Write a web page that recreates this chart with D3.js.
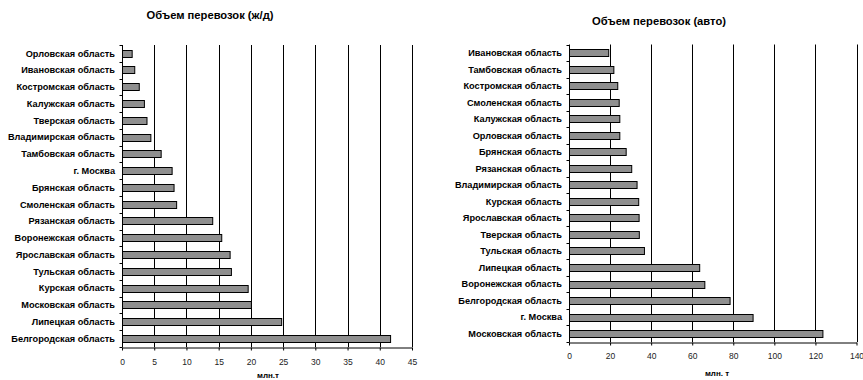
<!DOCTYPE html>
<html>
<head>
<meta charset="utf-8">
<script src="https://cdn.jsdelivr.net/npm/d3@7/dist/d3.min.js"></script>
<style>
  html, body { margin: 0; padding: 0; background: #fff; }
  svg { display: block; font-family: "Liberation Sans", Arial, sans-serif; }
</style>
</head>
<body>
<svg id="chart" width="863" height="380"></svg>
<script>
// Rail freight volume by region, million tonnes
const railRegions = [
  "Орловская область", "Ивановская область", "Костромская область", "Калужская область",
  "Тверская область", "Владимирская область", "Тамбовская область", "г. Москва",
  "Брянская область", "Смоленская область", "Рязанская область", "Воронежская область",
  "Ярославская область", "Тульская область", "Курская область", "Московская область",
  "Липецкая область", "Белгородская область"
];
const railValues = [1.5, 1.9, 2.6, 3.4, 3.8, 4.4, 6.0, 7.7, 8.0, 8.4, 14.0, 15.4, 16.7, 16.9, 19.5, 20.0, 24.7, 41.6];
const railTicks = [0, 5, 10, 15, 20, 25, 30, 35, 40, 45];

// Road freight volume by region, million tonnes
const roadRegions = [
  "Ивановская область", "Тамбовская область", "Костромская область", "Смоленская область",
  "Калужская область", "Орловская область", "Брянская область", "Рязанская область",
  "Владимирская область", "Курская область", "Ярославская область", "Тверская область",
  "Тульская область", "Липецкая область", "Воронежская область", "Белгородская область",
  "г. Москва", "Московская область"
];
const roadValues = [19.1, 21.6, 23.5, 24.2, 24.5, 24.5, 27.6, 30.3, 32.9, 33.7, 33.9, 34.0, 36.5, 63.4, 65.9, 78.2, 89.4, 123.4];
const roadTicks = [0, 20, 40, 60, 80, 100, 120, 140];

const svg = d3.select("#chart");

function drawPanel(opt) {
  const g = svg.append("g");
  const x = d3.scaleLinear()
    .domain([0, d3.max(opt.ticks)])
    .range([opt.left, opt.right]);
  const y = d3.scaleBand()
    .domain(opt.categories)
    .range([opt.top, opt.bottom])
    .paddingInner(0.56)
    .paddingOuter(0.28);

  // title
  g.append("text")
    .attr("x", opt.titleX)
    .attr("y", opt.titleY)
    .attr("text-anchor", "middle")
    .attr("font-size", 11.2)
    .attr("font-weight", "bold")
    .text(opt.title);

  // vertical gridlines
  g.selectAll("line.grid")
    .data(opt.ticks.slice(1))
    .join("line")
    .attr("class", "grid")
    .attr("x1", d => Math.round(x(d)) + 0.5)
    .attr("x2", d => Math.round(x(d)) + 0.5)
    .attr("y1", opt.top)
    .attr("y2", opt.bottom)
    .attr("stroke", "#000")
    .attr("stroke-width", 1);

  // bars
  g.selectAll("rect.bar")
    .data(opt.values)
    .join("rect")
    .attr("class", "bar")
    .attr("x", x(0) + 0.5)
    .attr("y", (d, i) => Math.round(y(opt.categories[i])) + 0.5)
    .attr("width", d => x(d) - x(0))
    .attr("height", Math.round(y.bandwidth()))
    .attr("fill", "#8f8f8f")
    .attr("stroke", "#000")
    .attr("stroke-width", 1);

  // y axis line and boundary ticks
  const x0 = Math.round(x(0)) + 0.5;
  g.append("line")
    .attr("x1", x0).attr("x2", x0)
    .attr("y1", opt.top).attr("y2", opt.bottom)
    .attr("stroke", "#000");
  g.selectAll("line.ytick")
    .data(d3.range(opt.categories.length + 1))
    .join("line")
    .attr("class", "ytick")
    .attr("x1", x0 - 3).attr("x2", x0)
    .attr("y1", i => Math.round(opt.top + i * y.step()) + 0.5)
    .attr("y2", i => Math.round(opt.top + i * y.step()) + 0.5)
    .attr("stroke", "#000");

  // category labels
  g.selectAll("text.cat")
    .data(opt.categories)
    .join("text")
    .attr("class", "cat")
    .attr("x", x0 - 7.5)
    .attr("y", d => y(d) + y.bandwidth() / 2)
    .attr("dy", "0.35em")
    .attr("text-anchor", "end")
    .attr("font-size", 9.2)
    .attr("font-weight", "bold")
    .text(d => d);

  // x axis
  const xAxis = d3.axisBottom(x)
    .tickValues(opt.ticks)
    .tickSize(3)
    .tickSizeOuter(0)
    .tickFormat(d3.format("d"));
  const ax = g.append("g")
    .attr("transform", `translate(0,${Math.round(opt.bottom) + 0.5})`)
    .call(xAxis);
  ax.select(".domain").attr("stroke", "#000");
  ax.selectAll(".tick line").attr("stroke", "#000");
  ax.selectAll(".tick text")
    .attr("font-family", "Liberation Sans, Arial, sans-serif")
    .attr("font-size", 8.5)
    .attr("fill", "#222")
    .attr("y", opt.tickLabelOffset)
    .attr("dy", "0.35em");

  // axis title
  g.append("text")
    .attr("x", opt.unitX)
    .attr("y", opt.unitY)
    .attr("text-anchor", "middle")
    .attr("font-size", 8)
    .attr("font-weight", "bold")
    .text(opt.unit);
}

drawPanel({
  title: "Объем перевозок (ж/д)",
  categories: railRegions,
  values: railValues,
  ticks: railTicks,
  left: 122, right: 412, top: 45, bottom: 347,
  tickLabelOffset: 14.5,
  titleX: 210, titleY: 19,
  unit: "млн.т", unitX: 268, unitY: 378
});

drawPanel({
  title: "Объем перевозок (авто)",
  categories: roadRegions,
  values: roadValues,
  ticks: roadTicks,
  left: 569, right: 856.5, top: 44.5, bottom: 342,
  tickLabelOffset: 13.5,
  titleX: 659, titleY: 25,
  unit: "млн. т", unitX: 717, unitY: 375.5
});
</script>
</body>
</html>
